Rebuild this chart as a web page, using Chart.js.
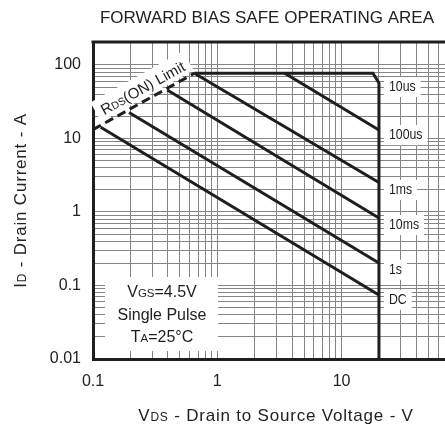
<!DOCTYPE html>
<html>
<head>
<meta charset="utf-8">
<script src="https://cdn.jsdelivr.net/npm/chart.js@4.4.1/dist/chart.umd.min.js"></script>
<style>
  html, body { margin: 0; padding: 0; background: #fff; }
</style>
</head>
<body>
<canvas id="soa" width="445" height="430"></canvas>
<script>
// tick labels
const xTickLabels = [0.1, 1, 10];
const yTickLabels = [0.01, 0.1, 1, 10, 100];

// boundary lines, VDS in V / ID in A
const rdsLimitV = [0.1, 0.654];
const rdsLimitI = [13.2, 77];
const curve10usV = [0.654, 17.9, 20, 20];
const curve10usI = [77, 77, 56.8, 0.01];
const curve100usV = [3.49, 20];
const curve100usI = [77, 13.0];
const curve1msV = [0.654, 20];
const curve1msI = [77, 2.52];
const curve10msV = [0.396, 20];
const curve10msI = [45.6, 0.828];
const curve1sV = [0.195, 20];
const curve1sI = [22.5, 0.202];
const curveDcV = [0.1154, 20];
const curveDcI = [14.2, 0.0743];

// pulse width labels right of the 20 V line, at these ID values
const pulseNames = ["10us", "100us", "1ms", "10ms", "1s", "DC"];
const pulseLabelI = [50.1, 11.1, 1.99, 0.665, 0.163, 0.0635];

const FONT = '"Liberation Sans", Arial, sans-serif';
const INK = "#1e1e1e";

function pts(xs, ys) {
  return xs.map((v, i) => ({ x: v, y: ys[i] }));
}

// 1..9 x 10^k grid ticks between min and max
function logGrid(min, max) {
  const out = [];
  for (let k = -3; k <= 3; k++) {
    for (let m = 1; m <= 9; m++) {
      const v = m * Math.pow(10, k);
      if (v >= min * 0.999 && v <= max * 1.001) out.push({ value: v });
    }
  }
  return out;
}

function line(data, dash) {
  return {
    data: data,
    showLine: true,
    borderColor: INK,
    borderWidth: 3,
    borderDash: dash || [],
    pointRadius: 0,
    tension: 0,
    fill: false,
  };
}

// text made of [string, size] parts on one baseline
function richWidth(ctx, parts) {
  let w = 0;
  parts.forEach(([t, s]) => {
    ctx.font = s + "px " + FONT;
    w += ctx.measureText(t).width;
  });
  return w;
}
function drawRich(ctx, parts, x, y) {
  parts.forEach(([t, s]) => {
    ctx.font = s + "px " + FONT;
    ctx.fillText(t, x, y);
    x += ctx.measureText(t).width;
  });
}
function drawRichCentered(ctx, parts, cx, y) {
  drawRich(ctx, parts, cx - richWidth(ctx, parts) / 2, y);
}

const annotate = {
  id: "annotate",
  beforeDatasetsDraw(chart) {
    const ctx = chart.ctx;
    const xs = chart.scales.x;
    const ys = chart.scales.y;
    const area = chart.chartArea;
    ctx.save();
    ctx.textBaseline = "middle";
    ctx.textAlign = "left";

    // pulse width labels
    const lx = xs.getPixelForValue(20) + 10;
    const sx = 0.82;
    pulseNames.forEach((name, i) => {
      const y = ys.getPixelForValue(pulseLabelI[i]);
      ctx.font = "15px " + FONT;
      const w = ctx.measureText(name).width * sx;
      ctx.fillStyle = "#fff";
      ctx.fillRect(lx - 5, y - 10, w + 10, 20);
      ctx.fillStyle = INK;
      ctx.save();
      ctx.translate(lx, y);
      ctx.scale(sx, 1);
      ctx.fillText(name, 0, 0);
      ctx.restore();
    });

    // conditions box
    ctx.textBaseline = "alphabetic";
    ctx.fillStyle = "#fff";
    ctx.fillRect(area.left + 12, 277, 113, 74);
    ctx.fillStyle = INK;
    const cx = area.left + 69;
    drawRichCentered(ctx, [["V", 16], ["GS", 11.5], ["=4.5V", 16]], cx, 297);
    drawRichCentered(ctx, [["Single Pulse", 16]], cx, 319.5);
    drawRichCentered(ctx, [["T", 16], ["A", 11.5], ["=25\u00B0C", 16]], cx, 342);

    // RDS(ON) limit label along the dashed line
    const p0x = xs.getPixelForValue(rdsLimitV[0]);
    const p0y = ys.getPixelForValue(rdsLimitI[0]);
    const p1x = xs.getPixelForValue(rdsLimitV[1]);
    const p1y = ys.getPixelForValue(rdsLimitI[1]);
    const len = Math.hypot(p1x - p0x, p1y - p0y);
    const dx = (p1x - p0x) / len, dy = (p1y - p0y) / len;
    const tx = p0x + dx * len * 0.55 + dy * 12;
    const ty = p0y + dy * len * 0.55 - dx * 12;
    const rparts = [["R", 15], ["DS", 10.5], ["(ON) Limit", 15]];
    const rw = richWidth(ctx, rparts);
    ctx.translate(tx, ty);
    ctx.rotate(Math.atan2(dy, dx));
    ctx.fillStyle = "#fff";
    ctx.fillRect(-rw / 2 - 6, -13, rw + 12, 22);
    ctx.fillStyle = INK;
    drawRich(ctx, rparts, -rw / 2, 5);
    ctx.restore();
  },
  afterDraw(chart) {
    const ctx = chart.ctx;
    const area = chart.chartArea;
    ctx.save();
    // top frame line
    ctx.strokeStyle = INK;
    ctx.lineWidth = 3;
    ctx.beginPath();
    ctx.moveTo(area.left - 1.5, area.top);
    ctx.lineTo(area.right, area.top);
    ctx.stroke();

    ctx.fillStyle = "#222";
    ctx.textBaseline = "alphabetic";
    drawRichCentered(ctx, [["FORWARD BIAS SAFE OPERATING AREA", 17]], 267, 23);
    ctx.letterSpacing = "0.8px";
    drawRichCentered(ctx, [["V", 17], ["DS", 12], [" - Drain to Source Voltage - V", 17]], 276, 421);
    ctx.translate(26, (area.top + area.bottom) / 2);
    ctx.rotate(-Math.PI / 2);
    drawRichCentered(ctx, [["I", 17], ["D", 12], [" - Drain Current - A", 17]], 0, 0);
    ctx.restore();
  },
};

const gridStyle = {
  color: "#858585",
  lineWidth: 1,
  drawTicks: false,
};
const tickFont = { family: FONT, size: 16 };

new Chart(document.getElementById("soa"), {
  type: "scatter",
  data: {
    datasets: [
      line(pts(rdsLimitV, rdsLimitI), [9, 5]),
      line(pts(curve10usV, curve10usI)),
      line(pts(curve100usV, curve100usI)),
      line(pts(curve1msV, curve1msI)),
      line(pts(curve10msV, curve10msI)),
      line(pts(curve1sV, curve1sI)),
      line(pts(curveDcV, curveDcI)),
    ],
  },
  options: {
    responsive: false,
    animation: false,
    devicePixelRatio: 1,
    layout: { autoPadding: false, padding: { top: 42, left: 0, right: 0, bottom: 0 } },
    plugins: {
      legend: { display: false },
      tooltip: { enabled: false },
    },
    scales: {
      x: {
        type: "logarithmic",
        min: 0.1,
        max: 68,
        afterBuildTicks: (s) => { s.ticks = logGrid(0.1, 68); },
        afterFit: (s) => { s.height = 71; s.paddingLeft = 0; s.paddingRight = 0; },
        grid: gridStyle,
        border: { color: INK, width: 3 },
        ticks: {
          autoSkip: false,
          maxRotation: 0,
          padding: 13,
          color: "#222",
          font: tickFont,
          callback: (v) => (xTickLabels.includes(v) ? String(v) : ""),
        },
      },
      y: {
        type: "logarithmic",
        min: 0.01,
        max: 205,
        afterBuildTicks: (s) => { s.ticks = logGrid(0.01, 100); },
        afterFit: (s) => { s.width = 93; s.paddingTop = 0; s.paddingBottom = 0; },
        grid: gridStyle,
        border: { color: INK, width: 3 },
        ticks: {
          autoSkip: false,
          padding: 12,
          color: "#222",
          font: tickFont,
          callback: (v) => (yTickLabels.includes(v) ? String(v) : ""),
        },
      },
    },
  },
  plugins: [annotate],
});
</script>
</body>
</html>
